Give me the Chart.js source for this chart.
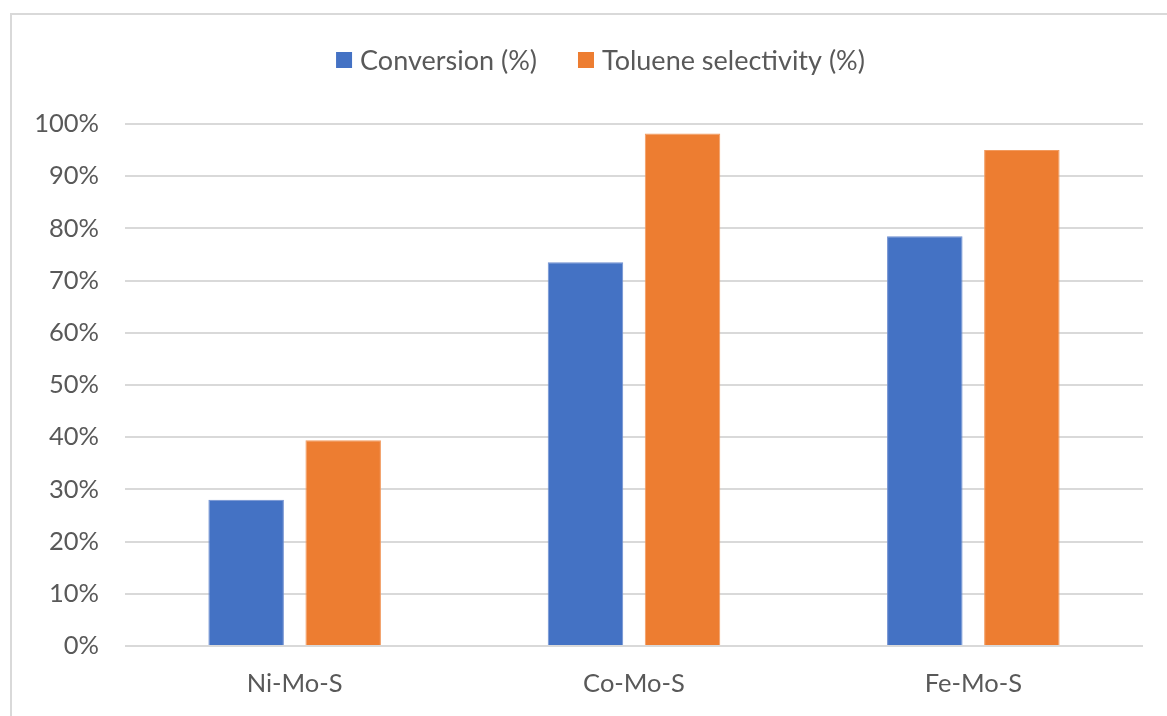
<!DOCTYPE html>
<html>
<head>
<meta charset="utf-8">
<script src="https://cdn.jsdelivr.net/npm/chart.js@4.4.1/dist/chart.umd.min.js"></script>
<style>
  html, body { margin: 0; padding: 0; background: #ffffff; }
  body { width: 1167px; height: 716px; overflow: hidden; position: relative; }
  #frame {
    position: absolute; left: 10px; top: 13px; width: 1200px; height: 800px;
    border: 2px solid #d9d9d9; box-sizing: border-box;
  }
  #wrap { position: absolute; left: 0; top: 0; width: 1167px; height: 716px; }
</style>
</head>
<body>
<div id="frame"></div>
<div id="wrap"><canvas id="chart" width="1167" height="716"></canvas></div>
<script>
// Catalysts compared
const categories = ['Ni-Mo-S', 'Co-Mo-S', 'Fe-Mo-S'];
// Series values, in percent
const conversion = [28.0, 73.5, 78.5];
const tolueneSelectivity = [39.4, 98.2, 95.0];
// Series names shown in the legend
const seriesNames = ['Conversion (%)', 'Toluene selectivity (%)'];

const FONT = 'Lato, "Open Sans", sans-serif';
const TEXT = '#595959';
const GRID = '#d9d9d9';

// Legend row drawn above the plot, centred on the page
const legendRow = {
  id: 'legendRow',
  afterDraw(chart) {
    const ctx = chart.ctx;
    const box = 16, gap = 8, itemGap = 41, cy = 60, cx = 600.5;
    ctx.save();
    ctx.font = '27px ' + FONT;
    ctx.textBaseline = 'middle';
    ctx.textAlign = 'left';
    const items = chart.data.datasets.map(ds => ({
      text: ds.label, color: ds.backgroundColor, w: ctx.measureText(ds.label).width
    }));
    const total = items.reduce((s, it) => s + box + gap + it.w, 0) + itemGap * (items.length - 1);
    let x = cx - total / 2;
    items.forEach(it => {
      ctx.fillStyle = it.color;
      ctx.fillRect(x, cy - box / 2, box, box);
      x += box + gap;
      ctx.fillStyle = TEXT;
      ctx.fillText(it.text, x, cy + 1);
      x += it.w + itemGap;
    });
    ctx.restore();
  }
};

new Chart(document.getElementById('chart'), {
  type: 'bar',
  data: {
    labels: categories,
    datasets: [
      { label: seriesNames[0], data: conversion, backgroundColor: '#4472c4',
        borderColor: '#6f8fd0', borderWidth: 1 },
      { label: seriesNames[1], data: tolueneSelectivity, backgroundColor: '#ed7d31',
        borderColor: '#f29a5e', borderWidth: 1 }
    ]
  },
  options: {
    responsive: false,
    animation: false,
    layout: { padding: { left: 0, right: 24, top: 124, bottom: 0 } },
    datasets: { bar: { categoryPercentage: 0.572, barPercentage: 0.778 } },
    plugins: {
      tooltip: { enabled: false },
      legend: { display: false }
    },
    scales: {
      x: {
        grid: { display: false, drawTicks: false },
        border: { display: false },
        ticks: { color: TEXT, font: { family: FONT, size: 25.5 }, padding: 22 },
        afterFit: (s) => { s.height = 70; }
      },
      y: {
        min: 0, max: 100,
        grid: { color: GRID, lineWidth: 2, drawTicks: false },
        border: { display: false },
        ticks: {
          stepSize: 10, color: TEXT, padding: 26,
          font: { family: FONT, size: 25.5 },
          callback: (v) => v + '%'
        },
        afterFit: (s) => { s.width = 125; }
      }
    }
  },
  plugins: [legendRow]
});
</script>
</body>
</html>
